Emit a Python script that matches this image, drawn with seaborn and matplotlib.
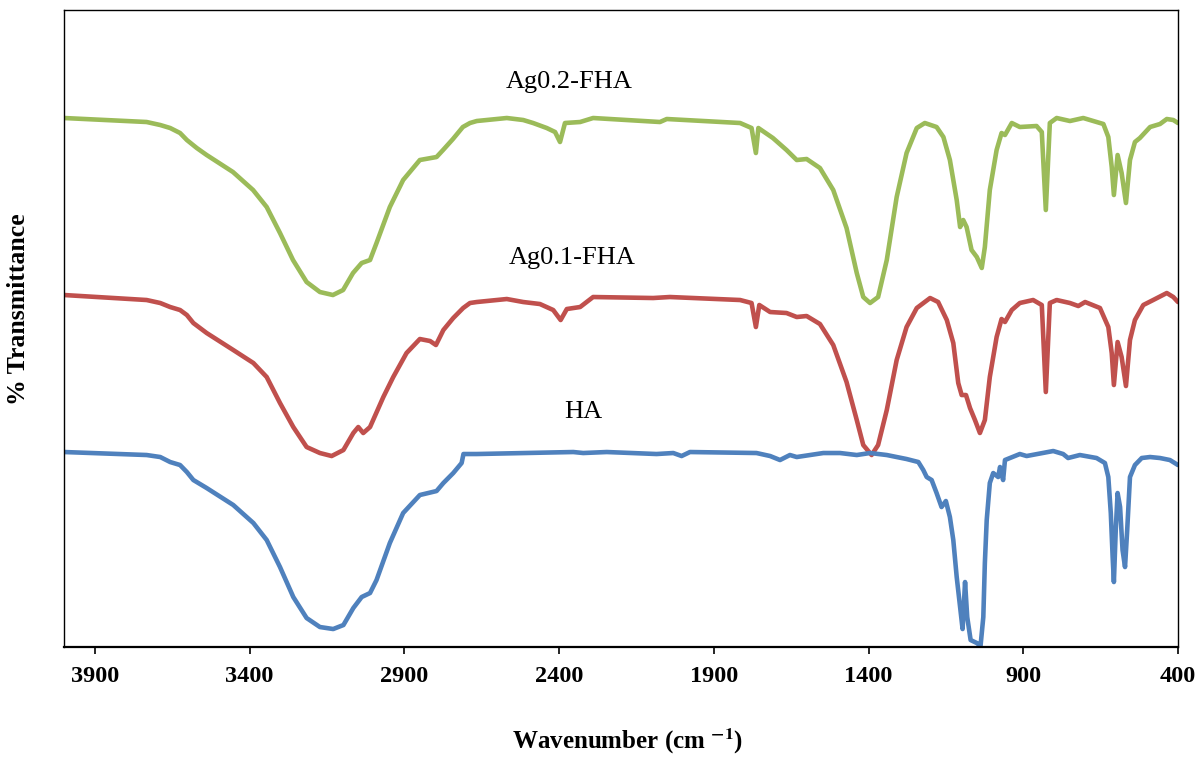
import matplotlib
matplotlib.use("Agg")
import matplotlib.pyplot as plt
import pandas as pd
import seaborn as sns

# FTIR spectra (wavenumber in cm-1, transmittance in arbitrary offset units)
ag02_wn = [4000, 3733, 3689, 3657, 3625, 3603, 3571, 3539, 3454, 3389, 3345, 3302, 3260, 3216,
           3173, 3131, 3098, 3066, 3038, 3011, 2990, 2947, 2904, 2850, 2796, 2775, 2743, 2711,
           2688, 2666, 2569, 2516, 2484, 2440, 2413, 2397, 2381, 2332, 2290, 2074, 2052, 1815,
           1778, 1764, 1756, 1709, 1665, 1632, 1600, 1557, 1514, 1471, 1438, 1417, 1395, 1369,
           1341, 1309, 1277, 1244, 1218, 1180, 1158, 1137, 1115, 1104, 1094, 1083, 1067, 1050,
           1034, 1024, 1008, 986, 970, 959, 937, 911, 857, 840, 827, 814, 792, 749, 706, 641,
           625, 614, 607, 595, 582, 568, 555, 539, 523, 490, 458, 436, 415, 400]
ag02_t = [529, 525, 522, 519, 514, 507, 499, 492, 475, 457, 440, 414, 387, 365,
          355, 352, 357, 374, 384, 387, 404, 440, 467, 487, 490, 497, 508, 520,
          524, 526, 529, 527, 524, 519, 515, 505, 524, 525, 529, 525, 528, 524,
          519, 494, 519, 509, 497, 487, 488, 479, 457, 419, 374, 350, 344, 350,
          387, 450, 494, 519, 524, 520, 510, 487, 447, 420, 427, 420, 397, 390,
          379, 400, 457, 497, 514, 512, 524, 520, 521, 515, 437, 524, 529, 526, 529, 523,
          510, 480, 452, 492, 474, 444, 487, 505, 509, 520, 523, 528, 527, 524]

ag01_wn = [4000, 3733, 3689, 3657, 3625, 3603, 3582, 3539, 3453, 3388, 3345, 3302, 3259, 3216,
           3173, 3135, 3097, 3065, 3049, 3033, 3011, 2968, 2936, 2893, 2850, 2817, 2798, 2774,
           2742, 2710, 2688, 2666, 2569, 2516, 2462, 2419, 2395, 2375, 2332, 2290, 2096, 2042,
           1815, 1778, 1764, 1753, 1718, 1665, 1632, 1600, 1557, 1514, 1471, 1438, 1417, 1390,
           1369, 1341, 1309, 1277, 1244, 1201, 1175, 1147, 1126, 1110, 1099, 1085, 1072, 1056,
           1040, 1024, 1008, 986, 970, 959, 937, 911, 868, 840, 827, 814, 792, 749, 722, 700,
           652, 625, 614, 607, 595, 582, 568, 555, 539, 512, 480, 436, 415, 400]
ag01_t = [352, 347, 344, 340, 337, 332, 324, 314, 297, 284, 270, 244, 220, 200,
          194, 191, 197, 214, 220, 214, 220, 250, 270, 294, 308, 306, 302, 317,
          329, 339, 344, 345, 348, 345, 343, 337, 327, 338, 340, 350, 349, 350,
          347, 344, 320, 342, 335, 334, 330, 331, 323, 302, 265, 227, 202, 192,
          202, 237, 287, 320, 339, 349, 345, 327, 304, 264, 252, 252, 239, 227,
          214, 227, 270, 310, 328, 325, 337, 344, 347, 342, 255, 344, 347, 344, 341, 345,
          339, 320, 294, 262, 305, 290, 261, 307, 327, 342, 347, 354, 350, 345]

ha_wn = [4000, 3733, 3689, 3657, 3625, 3603, 3582, 3539, 3453, 3388, 3345, 3302, 3259, 3216,
         3173, 3130, 3097, 3065, 3038, 3011, 2990, 2947, 2904, 2850, 2796, 2774, 2742, 2715,
         2709, 2666, 2354, 2322, 2246, 2085, 2031, 2004, 1977, 1762, 1718, 1686, 1654, 1632,
         1546, 1492, 1438, 1395, 1341, 1277, 1239, 1223, 1212, 1196, 1180, 1164, 1150, 1137,
         1126, 1115, 1104, 1096, 1088, 1081, 1070, 1050, 1038, 1029, 1024, 1018, 1008, 997,
         981, 975, 965, 959, 911, 889, 803, 771, 755, 717, 663, 636, 625, 617, 611, 607, 601,
         595, 587, 579, 571, 564, 555, 539, 517, 490, 458, 426, 400]
ha_t = [195, 192, 190, 185, 182, 175, 167, 159, 142, 124, 107, 80, 50, 29,
        20, 18, 22, 39, 50, 54, 67, 104, 134, 152, 156, 164, 174, 184,
        193, 193, 195, 194, 195, 193, 194, 191, 195, 194, 191, 187, 192, 190,
        194, 194, 192, 194, 192, 188, 185, 177, 170, 167, 154, 140, 146, 130,
        107, 70, 40, 18, 65, 30, 7, 4, 1, 30, 84, 127, 164, 174,
        170, 180, 167, 187, 193, 191, 196, 193, 189, 192, 189, 184, 170, 134, 90, 65, 117,
        154, 140, 97, 80, 117, 170, 182, 189, 190, 189, 187, 182]

samples = ["Ag0.2-FHA", "Ag0.1-FHA", "HA"]
colors = ["#9BBB59", "#C0504D", "#4F81BD"]
tick_values = [3900, 3400, 2900, 2400, 1900, 1400, 900, 400]

df = pd.concat([
    pd.DataFrame({"wn": ag02_wn, "t": ag02_t, "sample": samples[0]}),
    pd.DataFrame({"wn": ag01_wn, "t": ag01_t, "sample": samples[1]}),
    pd.DataFrame({"wn": ha_wn, "t": ha_t, "sample": samples[2]}),
])

sns.set_style("white")
plt.rcParams["font.family"] = ["Liberation Serif", "DejaVu Serif"]
plt.rcParams["mathtext.fontset"] = "stix"
plt.rcParams["text.color"] = "black"
plt.rcParams["axes.labelcolor"] = "black"
plt.rcParams["xtick.color"] = "black"

fig = plt.figure(figsize=(12.01, 7.58), dpi=100)
ax = fig.add_axes([0.0533, 0.1464, 0.9275, 0.8404])

sns.lineplot(data=df, x="wn", y="t", hue="sample", palette=dict(zip(samples, colors)),
             estimator=None, sort=False, linewidth=3.3, legend=False, ax=ax,
             solid_joinstyle="round", solid_capstyle="round")

ax.set_xlim(4000, 400)
ax.set_ylim(0, 637)
ax.set_xticks(tick_values)
ax.set_xticklabels([str(v) for v in tick_values], fontsize=17.5, fontweight="bold")
ax.set_yticks([])
ax.tick_params(axis="x", direction="out", length=5, width=1.2, pad=9, color="black", bottom=True)

for side in ["left", "right", "top"]:
    ax.spines[side].set_color("black")
    ax.spines[side].set_linewidth(1.0)
ax.spines["bottom"].set_color("black")
ax.spines["bottom"].set_linewidth(1.6)

# curve labels
ax.text(2368, 565, "Ag0.2-FHA", fontsize=19, ha="center", va="center")
ax.text(2358, 389, "Ag0.1-FHA", fontsize=19, ha="center", va="center")
ax.text(2323, 235, "HA", fontsize=19, ha="center", va="center")

ax.set_xlabel(r"Wavenumber (cm $^{\mathbf{-1}}$)", fontsize=18, fontweight="bold")
ax.set_ylabel("% Transmittance", fontsize=18.5, fontweight="bold")
ax.xaxis.set_label_coords(0.506, -0.148)
ax.yaxis.set_label_coords(-0.041, 0.53)
ax.xaxis.label.set_va("center")
ax.yaxis.label.set_va("center")

fig.savefig("out.png", dpi=100)
